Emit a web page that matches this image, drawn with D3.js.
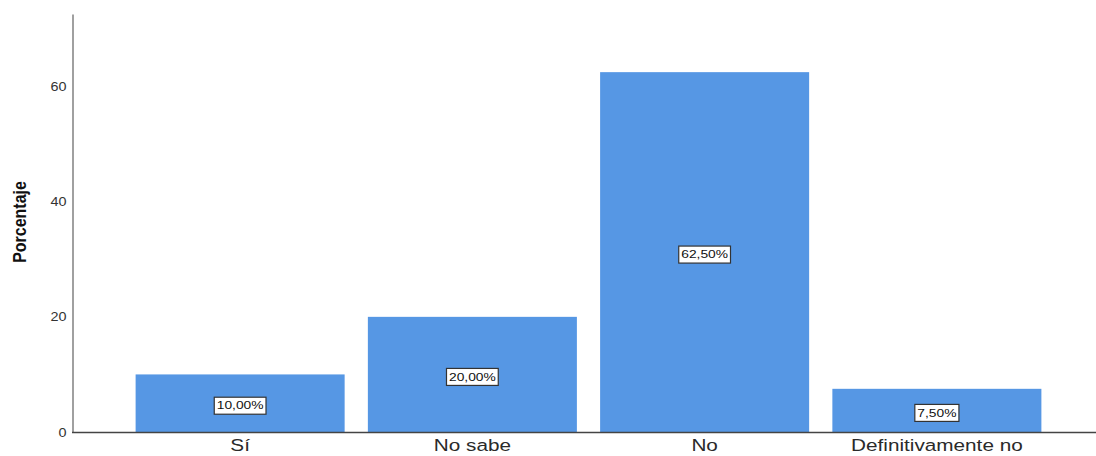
<!DOCTYPE html>
<html>
<head>
<meta charset="utf-8">
<script src="https://cdn.jsdelivr.net/npm/d3@7"></script>
<style>
  html, body { margin: 0; padding: 0; background: #fff; }
  svg { display: block; font-family: "Liberation Sans", Arial, sans-serif; }
</style>
</head>
<body>
<svg id="chart" width="1096" height="456"></svg>
<script>
// Response categories and their percentages
const categories = ["Sí", "No sabe", "No", "Definitivamente no"];
const percentages = [10.0, 20.0, 62.5, 7.5];
const yTicks = [0, 20, 40, 60];
const valueLabels = ["10,00%", "20,00%", "62,50%", "7,50%"];

const svg = d3.select("#chart");
const stretch = 1.2; // horizontal widening applied to the text glyphs

const x = d3.scaleBand()
  .domain(categories)
  .range([124, 1053])
  .paddingInner(0.1)
  .paddingOuter(0.05);

const y = d3.scaleLinear()
  .domain([0, 72.6])
  .range([432, 14]);

// Bars
svg.append("g")
  .selectAll("rect")
  .data(categories)
  .join("rect")
  .attr("x", d => x(d))
  .attr("y", (d, i) => y(percentages[i]))
  .attr("width", x.bandwidth())
  .attr("height", (d, i) => y(0) - y(percentages[i]))
  .attr("fill", "#5697e4");

// Y axis (no tick marks, labels only)
const yAxis = svg.append("g")
  .attr("transform", "translate(72.5,0)")
  .call(d3.axisLeft(y).tickValues(yTicks).tickSize(0).tickPadding(0).tickFormat(d3.format("d")));
yAxis.select(".domain").attr("stroke", "#a0a0a0").attr("stroke-width", 2);
yAxis.selectAll(".tick text")
  .attr("x", null)
  .attr("dy", null)
  .attr("text-anchor", "end")
  .attr("dominant-baseline", "central")
  .attr("transform", `translate(-6,0) scale(${stretch},1)`)
  .attr("font-size", 12)
  .attr("fill", "#333");

// X axis line and category labels
const xAxis = svg.append("g")
  .attr("transform", "translate(0,432.5)")
  .call(d3.axisBottom(x).tickSize(0).tickPadding(0));
xAxis.select(".domain")
  .attr("d", "M72,0H1096")
  .attr("stroke", "#444")
  .attr("stroke-width", 1.5);
xAxis.selectAll(".tick text")
  .attr("y", null)
  .attr("dy", null)
  .attr("transform", `translate(0,18.5) scale(1.22,1)`)
  .attr("font-size", 17)
  .attr("fill", "#2a2a2a");

// Y axis title (glyphs widened across the page, like the other text)
svg.append("text")
  .attr("transform", "translate(26,222) rotate(-90) scale(1,1.2)")
  .attr("text-anchor", "middle")
  .attr("font-size", 16)
  .attr("font-weight", "bold")
  .attr("fill", "#111")
  .text("Porcentaje");

// Boxed value labels at the middle of each bar
const labels = svg.append("g")
  .selectAll("g")
  .data(categories)
  .join("g")
  .attr("transform", (d, i) => `translate(${x(d) + x.bandwidth() / 2},${(y(percentages[i]) + y(0)) / 2 + 2.5})`);

labels.each(function (d, i) {
  const g = d3.select(this);
  const rect = g.append("rect");
  const t = g.append("text")
    .attr("text-anchor", "middle")
    .attr("dominant-baseline", "central")
    .attr("transform", `scale(${stretch},1)`)
    .attr("font-size", 11.5)
    .attr("fill", "#111")
    .text(valueLabels[i]);
  const w = t.node().getBBox().width * stretch + 5;
  const h = 17;
  rect.attr("x", -w / 2).attr("y", -h / 2)
    .attr("width", w).attr("height", h)
    .attr("fill", "#fff")
    .attr("stroke", "#333")
    .attr("stroke-width", 1.2);
});
</script>
</body>
</html>
